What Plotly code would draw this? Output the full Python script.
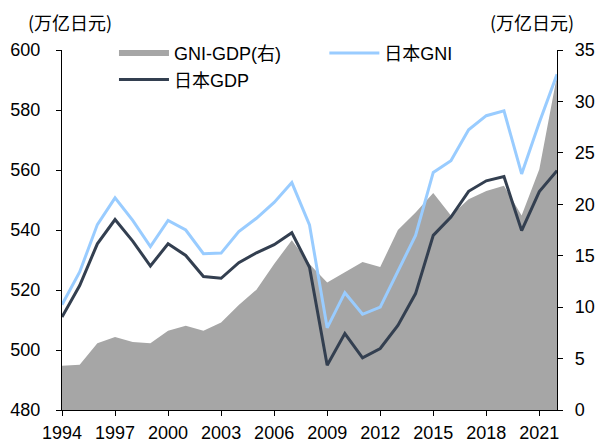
import plotly.graph_objects as go

# 日本 GNI / GDP (万亿日元) and their gap GNI-GDP (万亿日元, right axis)
years = list(range(1994, 2023))
gni = [515.1, 526.0, 541.8, 550.7, 543.2, 534.5, 543.2, 540.0, 532.1, 532.3,
       539.5, 543.9, 549.2, 555.8, 541.7, 507.4, 519.1, 511.9, 514.3, 526.5,
       538.2, 559.2, 563.1, 573.4, 578.1, 579.7, 558.7, 575.8, 591.9]
gdp = [511.0, 521.5, 535.4, 543.5, 536.3, 528.0, 535.4, 531.5, 524.5, 523.9,
       529.1, 532.4, 535.1, 539.1, 527.6, 494.9, 505.5, 497.4, 500.5, 508.2,
       518.8, 538.2, 544.3, 552.9, 556.4, 557.8, 539.8, 552.8, 559.8]
gap = [4.3, 4.4, 6.5, 7.1, 6.6, 6.5, 7.7, 8.2, 7.7, 8.5,
       10.2, 11.7, 14.2, 16.5, 14.2, 12.4, 13.4, 14.4, 13.9, 17.5,
       19.2, 21.1, 18.9, 20.5, 21.3, 21.8, 18.9, 23.4, 32.5]
x_ticks = years[::3]

FONT = "Liberation Sans, Arial, Noto Sans CJK SC"
CJK = "Noto Sans CJK SC"

fig = go.Figure()
fig.add_trace(go.Scatter(
    x=years, y=gap, name="GNI-GDP(右)", mode="none", fill="tozeroy",
    fillcolor="#A6A6A6", yaxis="y", legend="legend"))
fig.add_trace(go.Scatter(
    x=years, y=gni, name="日本GNI", mode="lines",
    line=dict(color="#99CCFF", width=3), yaxis="y2", legend="legend2"))
fig.add_trace(go.Scatter(
    x=years, y=gdp, name="日本GDP", mode="lines",
    line=dict(color="#333F50", width=3), yaxis="y2", legend="legend"))

axis_common = dict(showline=True, linecolor="#000000", linewidth=1.3,
                   ticks="outside", ticklen=5, tickcolor="#000000",
                   showgrid=False, zeroline=False, automargin=False,
                   tickfont=dict(family=FONT, size=18, color="#000000"))

fig.update_layout(
    width=610, height=446,
    margin=dict(l=62, r=53, t=50, b=36),
    paper_bgcolor="white", plot_bgcolor="white",
    font=dict(family=FONT, size=18, color="#000000"),
    xaxis=dict(range=[1994, 2022], tickvals=x_ticks, ticklabelstandoff=1,
               **axis_common),
    yaxis=dict(side="right", range=[0, 35], dtick=5, ticklabelstandoff=8,
               **axis_common),
    yaxis2=dict(side="left", overlaying="y", range=[480, 600], dtick=20,
                ticklabelstandoff=12, **axis_common),
    legend=dict(x=0.105, y=1.042, xanchor="left", yanchor="top",
                bgcolor="rgba(0,0,0,0)", itemwidth=50,
                font=dict(family=FONT, size=18)),
    legend2=dict(x=0.53, y=1.042, xanchor="left", yanchor="top",
                 bgcolor="rgba(0,0,0,0)", itemwidth=50,
                 font=dict(family=FONT, size=18)),
    annotations=[
        dict(text="(万亿日元)", x=0.016, y=1.078, xref="paper", yref="paper",
             xanchor="center", yanchor="middle", showarrow=False,
             font=dict(family=CJK, size=18)),
        dict(text="(万亿日元)", x=0.949, y=1.078, xref="paper", yref="paper",
             xanchor="center", yanchor="middle", showarrow=False,
             font=dict(family=CJK, size=18)),
    ],
)

fig.write_html("out.html")
